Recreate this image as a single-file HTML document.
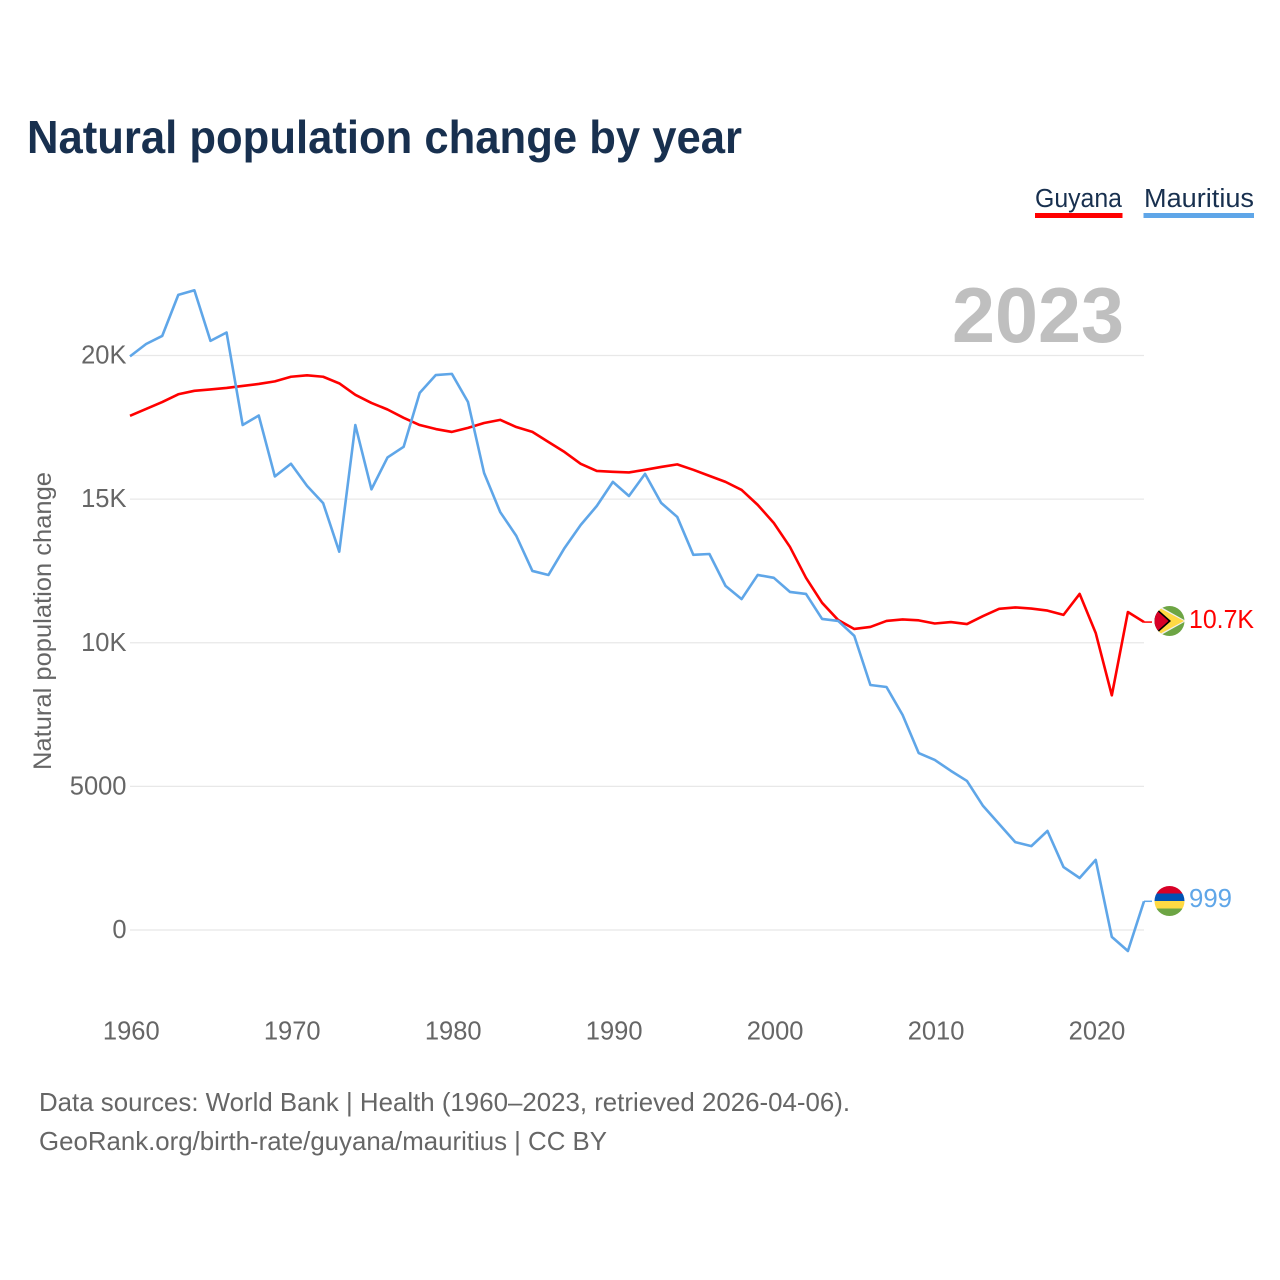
<!DOCTYPE html>
<html lang="en">
<head>
<meta charset="utf-8">
<title>Natural population change by year</title>
<style>
html,body{margin:0;padding:0;background:#fff;}
svg{display:block;}
text{font-family:"Liberation Sans",sans-serif;}
</style>
</head>
<body>
<svg id="chart" width="1280" height="1280" viewBox="0 0 1280 1280" xmlns="http://www.w3.org/2000/svg">
  <defs>
    <clipPath id="clip-flag-guyana"><circle cx="1169.5" cy="621" r="15"/></clipPath>
    <clipPath id="clip-flag-mauritius"><circle cx="1169.5" cy="901" r="15"/></clipPath>
  </defs>
  <rect width="1280" height="1280" fill="#fff"/>
  <text x="27" y="153" font-size="46" font-weight="700" fill="#18304f" textLength="715" lengthAdjust="spacingAndGlyphs">Natural population change by year</text>

  <g>
    <g>
      <text x="1035" y="207" font-size="25.5" fill="#18304f" textLength="87" lengthAdjust="spacingAndGlyphs">Guyana</text>
      <rect x="1035" y="213" width="87.5" height="5" fill="#ff0000"/>
    </g>
    <g>
      <text x="1144" y="207" font-size="25.5" fill="#18304f" textLength="110" lengthAdjust="spacingAndGlyphs">Mauritius</text>
      <rect x="1143.5" y="213" width="110.5" height="5" fill="#5fa6e8"/>
    </g>
  </g>

  <text x="952" y="342" font-size="78" font-weight="700" fill="#bfbfbf" textLength="172" lengthAdjust="spacingAndGlyphs">2023</text>
  <text transform="translate(51 770) rotate(-90)" font-size="25" fill="#666" textLength="298" lengthAdjust="spacingAndGlyphs">Natural population change</text>

  <g id="grid"></g>
  <g id="y-labels"></g>
  <g id="x-labels"></g>
  <g id="series"></g>

  <g clip-path="url(#clip-flag-guyana)">
    <rect x="1154" y="605" width="32" height="32" fill="#6da544"/>
    <polygon points="1154,603 1186,621 1154,639" fill="#f0f0f0"/>
    <polygon points="1157,606.5 1184,621 1157,635.5" fill="#ffda44"/>
    <polygon points="1154,606 1171,621 1154,636" fill="#000"/>
    <polygon points="1154,608 1168.5,621 1154,634" fill="#d80027"/>
  </g>
  <g clip-path="url(#clip-flag-mauritius)">
    <rect x="1154" y="886" width="32" height="7.5" fill="#d80027"/>
    <rect x="1154" y="893.5" width="32" height="7.5" fill="#0052b4"/>
    <rect x="1154" y="901" width="32" height="7.5" fill="#ffda44"/>
    <rect x="1154" y="908.5" width="32" height="7.5" fill="#6da544"/>
  </g>

  <text x="1189" y="628" font-size="25.5" fill="#ff0000" textLength="65" lengthAdjust="spacingAndGlyphs">10.7K</text>
  <text x="1189" y="907" font-size="25.5" fill="#5fa6e8" textLength="43" lengthAdjust="spacingAndGlyphs">999</text>

  <g>
    <text x="39" y="1111" font-size="26" fill="#666" textLength="811" lengthAdjust="spacingAndGlyphs">Data sources: World Bank | Health (1960–2023, retrieved 2026-04-06).</text>
    <text x="39" y="1150" font-size="26" fill="#666" textLength="568" lengthAdjust="spacingAndGlyphs">GeoRank.org/birth-rate/guyana/mauritius | CC BY</text>
  </g>
</svg>
<script>
const startYear = 1960;
const yTickValues = [0, 5000, 10000, 15000, 20000];
const yTickLabels = ["0", "5000", "10K", "15K", "20K"];
const xTickValues = [1960, 1970, 1980, 1990, 2000, 2010, 2020];
const guyanaValues = [17900,18140,18380,18650,18770,18820,18870,18940,19010,19100,19260,19310,19260,19030,18630,18350,18120,17830,17580,17440,17340,17480,17650,17760,17510,17340,16990,16640,16230,15980,15950,15930,16020,16120,16210,16020,15810,15600,15320,14800,14170,13340,12260,11390,10790,10480,10550,10760,10810,10780,10670,10720,10650,10930,11180,11230,11190,11120,10970,11700,10340,8170,11070,10720];
const mauritiusValues = [19970,20400,20680,22110,22270,20510,20800,17580,17910,15790,16230,15460,14860,13170,17580,15340,16450,16820,18700,19320,19360,18380,15910,14550,13720,12500,12360,13300,14100,14760,15600,15110,15880,14870,14380,13060,13090,11980,11520,12360,12260,11770,11700,10830,10760,10240,8530,8460,7490,6160,5920,5540,5190,4320,3690,3060,2920,3450,2190,1810,2440,-240,-730,999];

const SVG_NS = "http://www.w3.org/2000/svg";
function xScale(year) { return 130 + (year - 1960) * (1144 - 130) / 63; }
function yScale(value) { return 930 - value * (930 - 355.5) / 20000; }
function make(tag, attrs) {
  const el = document.createElementNS(SVG_NS, tag);
  for (const key in attrs) el.setAttribute(key, attrs[key]);
  return el;
}

const grid = document.getElementById("grid");
const yLabels = document.getElementById("y-labels");
yTickValues.forEach(function (value, i) {
  const line = make("line", { x1: 130, x2: 1144, y1: yScale(value), y2: yScale(value), stroke: "#e8e8e8", "stroke-width": 1.2 });
  
  
  grid.appendChild(line);
  const label = make("text", { x: 126.5, y: yScale(value) + 8, "text-anchor": "end", "font-size": 25.5, fill: "#666" });
  
  
  label.textContent = yTickLabels[i];
  yLabels.appendChild(label);
});

const xLabels = document.getElementById("x-labels");
xTickValues.forEach(function (year) {
  const label = make("text", { x: xScale(year) + 1.3, y: 1039.5, "text-anchor": "middle", "font-size": 25.5, fill: "#666" });
  
  
  label.textContent = year;
  xLabels.appendChild(label);
});

const seriesGroup = document.getElementById("series");
function drawSeries(values, color, name) {
  const points = values.map(function (v, i) { return xScale(startYear + i).toFixed(2) + "," + yScale(v).toFixed(2); }).join(" ");
  const line = make("polyline", { points: points, fill: "none", stroke: color, "stroke-width": 2.6, "stroke-linejoin": "round" });
  
  
  seriesGroup.appendChild(line);
  const lastY = yScale(values[values.length - 1]);
  const connector = make("line", { x1: 1144, x2: 1152, y1: lastY, y2: lastY, stroke: color, "stroke-width": 1.5 });
  
  
  seriesGroup.appendChild(connector);
}
drawSeries(guyanaValues, "#ff0000", "series-line-guyana");
drawSeries(mauritiusValues, "#5fa6e8", "series-line-mauritius");
</script>
</body>
</html>
